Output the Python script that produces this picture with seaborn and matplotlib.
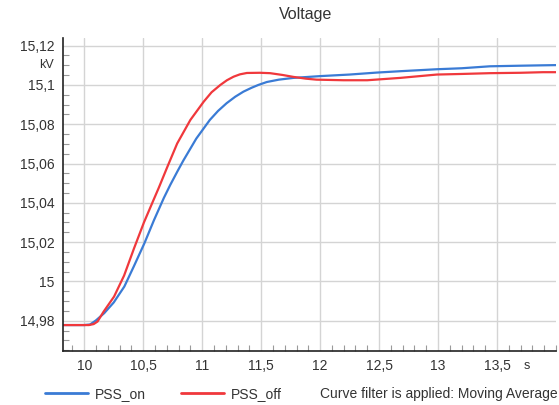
import numpy as np
import pandas as pd
import matplotlib
matplotlib.use("Agg")
import matplotlib.pyplot as plt
from matplotlib.lines import Line2D
from matplotlib.ticker import MultipleLocator, FixedLocator, FixedFormatter
import seaborn as sns

# ---- data ----
t_on = [9.82, 10.00, 10.05, 10.10, 10.17, 10.25, 10.34, 10.42, 10.51, 10.59, 10.675, 10.73,
        10.79, 10.84, 10.95, 11.065, 11.135, 11.207, 11.28, 11.35, 11.42, 11.476, 11.548,
        11.65, 11.774, 11.90, 12.00, 12.25, 12.48, 12.68, 12.99, 13.20, 13.44, 13.70,
        13.89, 14.00]
v_on = [14.9778, 14.9778, 14.9781, 14.9802, 14.9839, 14.9893, 14.9974, 15.0076, 15.0194,
        15.0310, 15.0425, 15.0492, 15.0560, 15.0615, 15.0727, 15.0822, 15.0868, 15.0907,
        15.0940, 15.0966, 15.0986, 15.1000, 15.1015, 15.1027, 15.1036, 15.1041, 15.1045,
        15.1053, 15.1063, 15.1070, 15.1080, 15.1085, 15.1095, 15.1098, 15.1100, 15.1101]

t_off = [9.82, 10.04, 10.08, 10.113, 10.164, 10.253, 10.338, 10.422, 10.506, 10.59, 10.633,
         10.704, 10.788, 10.90, 11.013, 11.08, 11.154, 11.21, 11.266, 11.32, 11.379, 11.49,
         11.576, 11.68, 11.774, 11.88, 11.97, 12.20, 12.40, 12.68, 12.99, 13.20, 13.44,
         13.70, 13.89, 14.00]
v_off = [14.9778, 14.9778, 14.9783, 14.9796, 14.9846, 14.9923, 15.0030, 15.0168, 15.0300,
         15.0418, 15.0478, 15.0582, 15.0702, 15.0822, 15.0915, 15.0963, 15.1000, 15.1024,
         15.1042, 15.1054, 15.1061, 15.1062, 15.1060, 15.1051, 15.1041, 15.1032, 15.1027,
         15.1024, 15.1024, 15.1036, 15.1053, 15.1056, 15.1060, 15.1062, 15.1065, 15.1065]

series_names = ["PSS_on", "PSS_off"]
x_ticks = [10, 10.5, 11, 11.5, 12, 12.5, 13, 13.5]
x_tick_labels = ["10", "10,5", "11", "11,5", "12", "12,5", "13", "13,5"]
y_ticks = [14.98, 15.0, 15.02, 15.04, 15.06, 15.08, 15.1, 15.12]
y_tick_labels = ["14,98", "15", "15,02", "15,04", "15,06", "15,08", "15,1", "15,12"]
title = "Voltage"
x_unit = "s"
y_unit = "kV"
note = "Curve filter is applied: Moving Average"

df = pd.concat([
    pd.DataFrame({"t": t_on, "v": v_on, "series": series_names[0]}),
    pd.DataFrame({"t": t_off, "v": v_off, "series": series_names[1]}),
], ignore_index=True)

sns.set_theme(style="white")
plt.rcParams["font.family"] = ["Liberation Sans", "DejaVu Sans"]

colors = {"PSS_on": "#3a7bd5", "PSS_off": "#f0383c"}

fig = plt.figure(figsize=(5.59, 4.05), dpi=100)
ax = fig.add_axes([63 / 559, 1 - 351 / 405, (556 - 63) / 559, (351 - 38) / 405])

sns.lineplot(data=df, x="t", y="v", hue="series", palette=colors, ax=ax,
             linewidth=1.6, legend=False, sort=False, estimator=None)

ax.set_xlim(9.82, 14.0)
ax.set_ylim(14.9646, 15.1239)

ax.xaxis.set_major_locator(FixedLocator(x_ticks))
ax.xaxis.set_major_formatter(FixedFormatter(x_tick_labels))
ax.yaxis.set_major_locator(FixedLocator(y_ticks))
ax.yaxis.set_major_formatter(FixedFormatter(y_tick_labels))
ax.xaxis.set_minor_locator(MultipleLocator(0.1))
ax.yaxis.set_minor_locator(MultipleLocator(0.005))

ax.grid(True, which="major", color="#d4d4d4", linewidth=1.0)
ax.set_axisbelow(True)
ax.tick_params(which="both", bottom=True, left=True, top=False, right=False)
ax.tick_params(which="major", length=0, labelsize=10, labelcolor="#333333", pad=6)
ax.tick_params(which="minor", direction="in", length=4, width=0.8, color="#9a9a9a")

for s in ["top", "right"]:
    ax.spines[s].set_visible(False)
for s in ["left", "bottom"]:
    ax.spines[s].set_color("#222222")
    ax.spines[s].set_linewidth(1.2)

ax.set_xlabel("")
ax.set_ylabel("")

fig.text(306 / 559, 1 - 15 / 405, title, ha="center", va="center", fontsize=11.5, color="#333333")
fig.text(47 / 559, 1 - 65 / 405, y_unit, ha="center", va="center", fontsize=9, color="#333333")
fig.text(527 / 559, 1 - 366 / 405, x_unit, ha="center", va="center", fontsize=9, color="#333333")

handles = [Line2D([0], [0], color=colors[n], linewidth=2) for n in series_names]
fig.legend(handles, series_names, loc="center left", bbox_to_anchor=(45 / 559, 1 - 394 / 405),
           ncol=2, frameon=False, fontsize=10, handlelength=3.1, handletextpad=0.5,
           columnspacing=2.5, borderpad=0, borderaxespad=0,
           labelcolor="#333333")
fig.text(320 / 559, 1 - 394 / 405, note, ha="left", va="center", fontsize=10, color="#333333")

fig.savefig("out.png", dpi=100)
